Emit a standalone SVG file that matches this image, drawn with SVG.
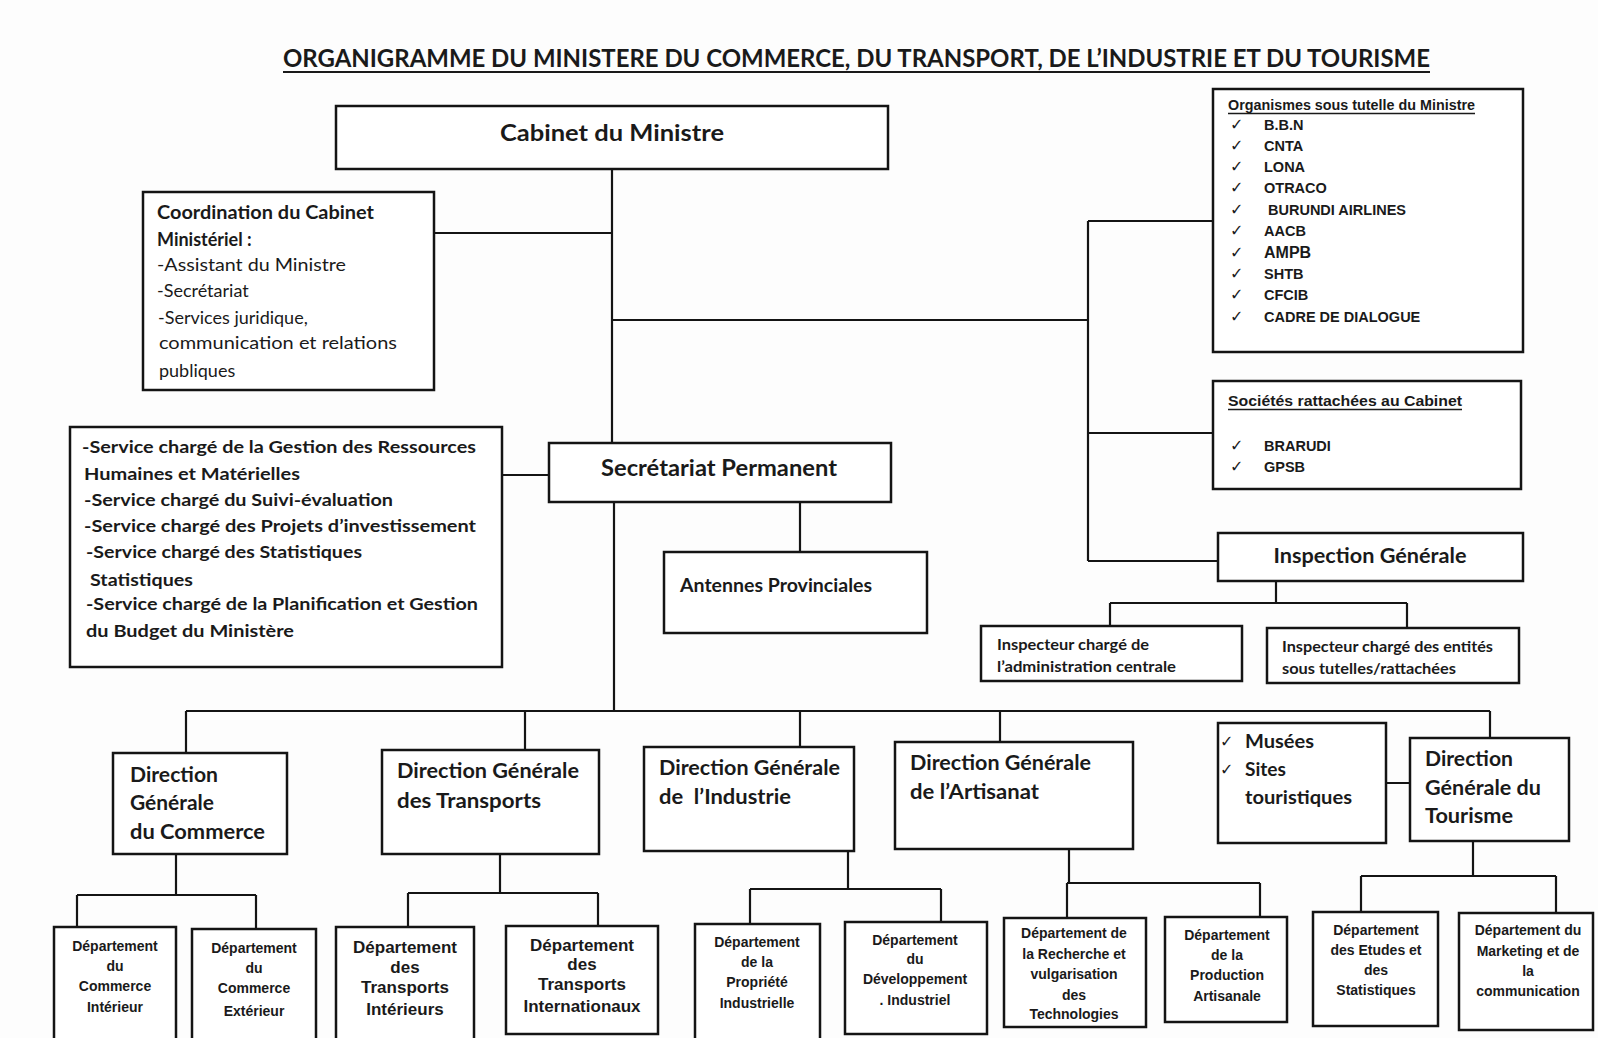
<svg xmlns="http://www.w3.org/2000/svg" width="1598" height="1038" viewBox="0 0 1598 1038">
<style>
.box{fill:#fff;stroke:#141414;stroke-width:2.5}
.ln{stroke:#141414;stroke-width:2.2;fill:none}
.c{font-family:Lato,"Open Sans","Liberation Sans",sans-serif;fill:#1a1a1a}
.b{font-weight:bold}
.a{font-family:"Liberation Sans",Arial,sans-serif;font-weight:bold;fill:#1a1a1a}
.ck{font-family:"DejaVu Sans",sans-serif;fill:#1a1a1a;font-size:16px}
.m{text-anchor:middle}
</style>
<rect width="1598" height="1038" fill="#fdfdfd"/>
<g id="title">
<text class="c b" x="283" y="67" font-size="24" textLength="1147" lengthAdjust="spacingAndGlyphs">ORGANIGRAMME DU MINISTERE DU COMMERCE, DU TRANSPORT, DE L’INDUSTRIE ET DU TOURISME</text>
<line x1="283" y1="72" x2="1430" y2="72" stroke="#1a1a1a" stroke-width="2"/>
</g>
<g id="connectors">
<path class="ln" d="M612 169V443M434 233H612M612 320H1088M1088 221V561M1088 221H1213M1088 433H1213M1088 561H1218"/>
<path class="ln" d="M502 475H549M800 502V552M614 502V711M186 711H1490M186 711V753M525 711V750M800 711V747M1000 711V742M1490 711V738"/>
<path class="ln" d="M1276 581V603M1110 603H1407M1110 603V626M1407 603V628M1386 783H1410"/>
<path class="ln" d="M176 854V895M77 895H256M77 895V927M256 895V929"/>
<path class="ln" d="M500 854V893M408 893H598M408 893V927M598 893V926"/>
<path class="ln" d="M848 851V889M750 889H941M750 889V924M941 889V922"/>
<path class="ln" d="M1069 849V883M1067 883H1260M1067 883V918M1260 883V917"/>
<path class="ln" d="M1473 841V876M1361 876H1556M1361 876V912M1556 876V913"/>
</g>
<g id="cabinet">
<rect class="box" x="336" y="106" width="552" height="63"/>
<text class="c b m" x="612" y="141" font-size="23" textLength="224" lengthAdjust="spacingAndGlyphs">Cabinet du Ministre</text>
</g>
<g id="coordination">
<rect class="box" x="143" y="192" width="291" height="198"/>
<text class="c" font-size="18">
<tspan class="b" x="157" y="219" textLength="217" lengthAdjust="spacingAndGlyphs">Coordination du Cabinet</tspan>
<tspan class="b" x="157" y="246">Ministériel :</tspan>
<tspan x="157" y="271" textLength="189" lengthAdjust="spacingAndGlyphs">-Assistant du Ministre</tspan>
<tspan x="157" y="297">-Secrétariat</tspan>
<tspan x="158" y="324">-Services juridique,</tspan>
<tspan x="159" y="349" textLength="238" lengthAdjust="spacingAndGlyphs">communication et relations</tspan>
<tspan x="159" y="377">publiques</tspan>
</text>
</g>
<g id="services">
<rect class="box" x="70" y="427" width="432" height="240"/>
<text class="c b" font-size="17.5">
<tspan x="82" y="453" textLength="394" lengthAdjust="spacingAndGlyphs">-Service chargé de la Gestion des Ressources</tspan>
<tspan x="84" y="480" textLength="216" lengthAdjust="spacingAndGlyphs">Humaines et Matérielles</tspan>
<tspan x="84" y="506" textLength="309" lengthAdjust="spacingAndGlyphs">-Service chargé du Suivi-évaluation</tspan>
<tspan x="84" y="532" textLength="392" lengthAdjust="spacingAndGlyphs">-Service chargé des Projets d’investissement</tspan>
<tspan x="86" y="558" textLength="276" lengthAdjust="spacingAndGlyphs">-Service chargé des Statistiques</tspan>
<tspan x="90" y="586" textLength="103" lengthAdjust="spacingAndGlyphs">Statistiques</tspan>
<tspan x="86" y="610" textLength="392" lengthAdjust="spacingAndGlyphs">-Service chargé de la Planification et Gestion</tspan>
<tspan x="86" y="637" textLength="208" lengthAdjust="spacingAndGlyphs">du Budget du Ministère</tspan>
</text>
</g>
<g id="secretariat">
<rect class="box" x="549" y="443" width="342" height="59"/>
<text class="c b m" x="719" y="476" font-size="22" textLength="236" lengthAdjust="spacingAndGlyphs">Secrétariat Permanent</text>
</g>
<g id="antennes">
<rect class="box" x="664" y="552" width="263" height="81"/>
<text class="c b" x="680" y="592" font-size="19" textLength="192" lengthAdjust="spacingAndGlyphs">Antennes Provinciales</text>
</g>
<g id="organismes">
<rect class="box" x="1213" y="89" width="310" height="263"/>
<text class="a" x="1228" y="110" font-size="15" textLength="247" lengthAdjust="spacingAndGlyphs">Organismes sous tutelle du Ministre</text>
<line x1="1228" y1="113.5" x2="1475" y2="113.5" stroke="#1a1a1a" stroke-width="1.3"/>
<text class="ck"><tspan x="1230" y="130">✓</tspan><tspan x="1230" y="151">✓</tspan><tspan x="1230" y="172">✓</tspan><tspan x="1230" y="193">✓</tspan><tspan x="1230" y="215">✓</tspan><tspan x="1230" y="236">✓</tspan><tspan x="1230" y="258">✓</tspan><tspan x="1230" y="279">✓</tspan><tspan x="1230" y="300">✓</tspan><tspan x="1230" y="322">✓</tspan></text>
<text class="a" font-size="14.5">
<tspan x="1264" y="130">B.B.N</tspan>
<tspan x="1264" y="151">CNTA</tspan>
<tspan x="1264" y="172">LONA</tspan>
<tspan x="1264" y="193">OTRACO</tspan>
<tspan x="1268" y="215">BURUNDI AIRLINES</tspan>
<tspan x="1264" y="236">AACB</tspan>
<tspan x="1264" y="258" font-size="16">AMPB</tspan>
<tspan x="1264" y="279">SHTB</tspan>
<tspan x="1264" y="300">CFCIB</tspan>
<tspan x="1264" y="322">CADRE DE DIALOGUE</tspan>
</text>
</g>
<g id="societes">
<rect class="box" x="1213" y="381" width="308" height="108"/>
<text class="a" x="1228" y="406" font-size="15.5" textLength="234" lengthAdjust="spacingAndGlyphs">Sociétés rattachées au Cabinet</text>
<line x1="1228" y1="409.5" x2="1462" y2="409.5" stroke="#1a1a1a" stroke-width="1.3"/>
<text class="ck"><tspan x="1230" y="451">✓</tspan><tspan x="1230" y="472">✓</tspan></text>
<text class="a" font-size="14.5"><tspan x="1264" y="451">BRARUDI</tspan><tspan x="1264" y="472">GPSB</tspan></text>
</g>
<g id="inspection">
<rect class="box" x="1218" y="533" width="305" height="48"/>
<text class="c b m" x="1370" y="563" font-size="20" textLength="193" lengthAdjust="spacingAndGlyphs">Inspection Générale</text>
</g>
<g id="inspecteur1">
<rect class="box" x="981" y="626" width="261" height="55"/>
<text class="c b" font-size="15"><tspan x="997" y="650" textLength="152" lengthAdjust="spacingAndGlyphs">Inspecteur chargé de</tspan><tspan x="997" y="672" textLength="179" lengthAdjust="spacingAndGlyphs">l’administration centrale</tspan></text>
</g>
<g id="inspecteur2">
<rect class="box" x="1267" y="628" width="252" height="55"/>
<text class="c b" font-size="15"><tspan x="1282" y="652" textLength="211" lengthAdjust="spacingAndGlyphs">Inspecteur chargé des entités</tspan><tspan x="1282" y="674" textLength="174" lengthAdjust="spacingAndGlyphs">sous tutelles/rattachées</tspan></text>
</g>
<g id="dg-commerce">
<rect class="box" x="113" y="753" width="174" height="101"/>
<text class="c b" font-size="20"><tspan x="130" y="782" textLength="88" lengthAdjust="spacingAndGlyphs">Direction</tspan><tspan x="130" y="810" textLength="84" lengthAdjust="spacingAndGlyphs">Générale</tspan><tspan x="130" y="839" textLength="135" lengthAdjust="spacingAndGlyphs">du Commerce</tspan></text>
</g>
<g id="dg-transports">
<rect class="box" x="382" y="750" width="217" height="104"/>
<text class="c b" font-size="20"><tspan x="397" y="778" textLength="182" lengthAdjust="spacingAndGlyphs">Direction Générale</tspan><tspan x="397" y="808" textLength="144" lengthAdjust="spacingAndGlyphs">des Transports</tspan></text>
</g>
<g id="dg-industrie">
<rect class="box" x="644" y="747" width="210" height="104"/>
<text class="c b" font-size="20" xml:space="preserve"><tspan x="659" y="775" textLength="181" lengthAdjust="spacingAndGlyphs">Direction Générale</tspan><tspan x="659" y="804" textLength="132" lengthAdjust="spacingAndGlyphs">de  l’Industrie</tspan></text>
</g>
<g id="dg-artisanat">
<rect class="box" x="895" y="742" width="238" height="107"/>
<text class="c b" font-size="20"><tspan x="910" y="770" textLength="181" lengthAdjust="spacingAndGlyphs">Direction Générale</tspan><tspan x="910" y="799" textLength="129" lengthAdjust="spacingAndGlyphs">de l’Artisanat</tspan></text>
</g>
<g id="musees">
<rect class="box" x="1218" y="723" width="168" height="120"/>
<text class="ck" font-size="17"><tspan x="1220" y="747">✓</tspan><tspan x="1220" y="775">✓</tspan></text>
<text class="c b" font-size="19"><tspan x="1245" y="748" textLength="69" lengthAdjust="spacingAndGlyphs">Musées</tspan><tspan x="1245" y="776" textLength="41" lengthAdjust="spacingAndGlyphs">Sites</tspan><tspan x="1245" y="804" textLength="107" lengthAdjust="spacingAndGlyphs">touristiques</tspan></text>
</g>
<g id="dg-tourisme">
<rect class="box" x="1410" y="738" width="159" height="103"/>
<text class="c b" font-size="20"><tspan x="1425" y="766" textLength="88" lengthAdjust="spacingAndGlyphs">Direction</tspan><tspan x="1425" y="795" textLength="116" lengthAdjust="spacingAndGlyphs">Générale du</tspan><tspan x="1425" y="823" textLength="88" lengthAdjust="spacingAndGlyphs">Tourisme</tspan></text>
</g>
<g id="dep-commerce-int">
<rect class="box" x="54" y="927" width="122" height="118"/>
<text class="a m" font-size="14"><tspan x="115" y="951">Département</tspan><tspan x="115" y="971">du</tspan><tspan x="115" y="991">Commerce</tspan><tspan x="115" y="1012">Intérieur</tspan></text>
</g>
<g id="dep-commerce-ext">
<rect class="box" x="192" y="929" width="124" height="116"/>
<text class="a m" font-size="14"><tspan x="254" y="953">Département</tspan><tspan x="254" y="973">du</tspan><tspan x="254" y="993">Commerce</tspan><tspan x="254" y="1016">Extérieur</tspan></text>
</g>
<g id="dep-transports-int">
<rect class="box" x="336" y="927" width="138" height="118"/>
<text class="a m" font-size="17"><tspan x="405" y="953">Département</tspan><tspan x="405" y="973">des</tspan><tspan x="405" y="993">Transports</tspan><tspan x="405" y="1015">Intérieurs</tspan></text>
</g>
<g id="dep-transports-intl">
<rect class="box" x="506" y="926" width="152" height="108"/>
<text class="a m" font-size="17"><tspan x="582" y="951">Département</tspan><tspan x="582" y="970">des</tspan><tspan x="582" y="990">Transports</tspan><tspan x="582" y="1012">Internationaux</tspan></text>
</g>
<g id="dep-propriete">
<rect class="box" x="695" y="924" width="125" height="118"/>
<text class="a m" font-size="14"><tspan x="757" y="947">Département</tspan><tspan x="757" y="967">de la</tspan><tspan x="757" y="987">Propriété</tspan><tspan x="757" y="1008">Industrielle</tspan></text>
</g>
<g id="dep-developpement">
<rect class="box" x="845" y="922" width="142" height="112"/>
<text class="a m" font-size="14"><tspan x="915" y="945">Département</tspan><tspan x="915" y="964">du</tspan><tspan x="915" y="984">Développement</tspan><tspan x="915" y="1005">. Industriel</tspan></text>
</g>
<g id="dep-recherche">
<rect class="box" x="1004" y="918" width="142" height="109"/>
<text class="a m" font-size="14"><tspan x="1074" y="938">Département de</tspan><tspan x="1074" y="959">la Recherche et</tspan><tspan x="1074" y="979">vulgarisation</tspan><tspan x="1074" y="1000">des</tspan><tspan x="1074" y="1019">Technologies</tspan></text>
</g>
<g id="dep-production">
<rect class="box" x="1165" y="917" width="122" height="105"/>
<text class="a m" font-size="14"><tspan x="1227" y="940">Département</tspan><tspan x="1227" y="960">de la</tspan><tspan x="1227" y="980">Production</tspan><tspan x="1227" y="1001">Artisanale</tspan></text>
</g>
<g id="dep-etudes">
<rect class="box" x="1313" y="912" width="125" height="114"/>
<text class="a m" font-size="14"><tspan x="1376" y="935">Département</tspan><tspan x="1376" y="955">des Etudes et</tspan><tspan x="1376" y="975">des</tspan><tspan x="1376" y="995">Statistiques</tspan></text>
</g>
<g id="dep-marketing">
<rect class="box" x="1459" y="913" width="134" height="117"/>
<text class="a m" font-size="14"><tspan x="1528" y="935">Département du</tspan><tspan x="1528" y="956">Marketing et de</tspan><tspan x="1528" y="976">la</tspan><tspan x="1528" y="996">communication</tspan></text>
</g>
</svg>
